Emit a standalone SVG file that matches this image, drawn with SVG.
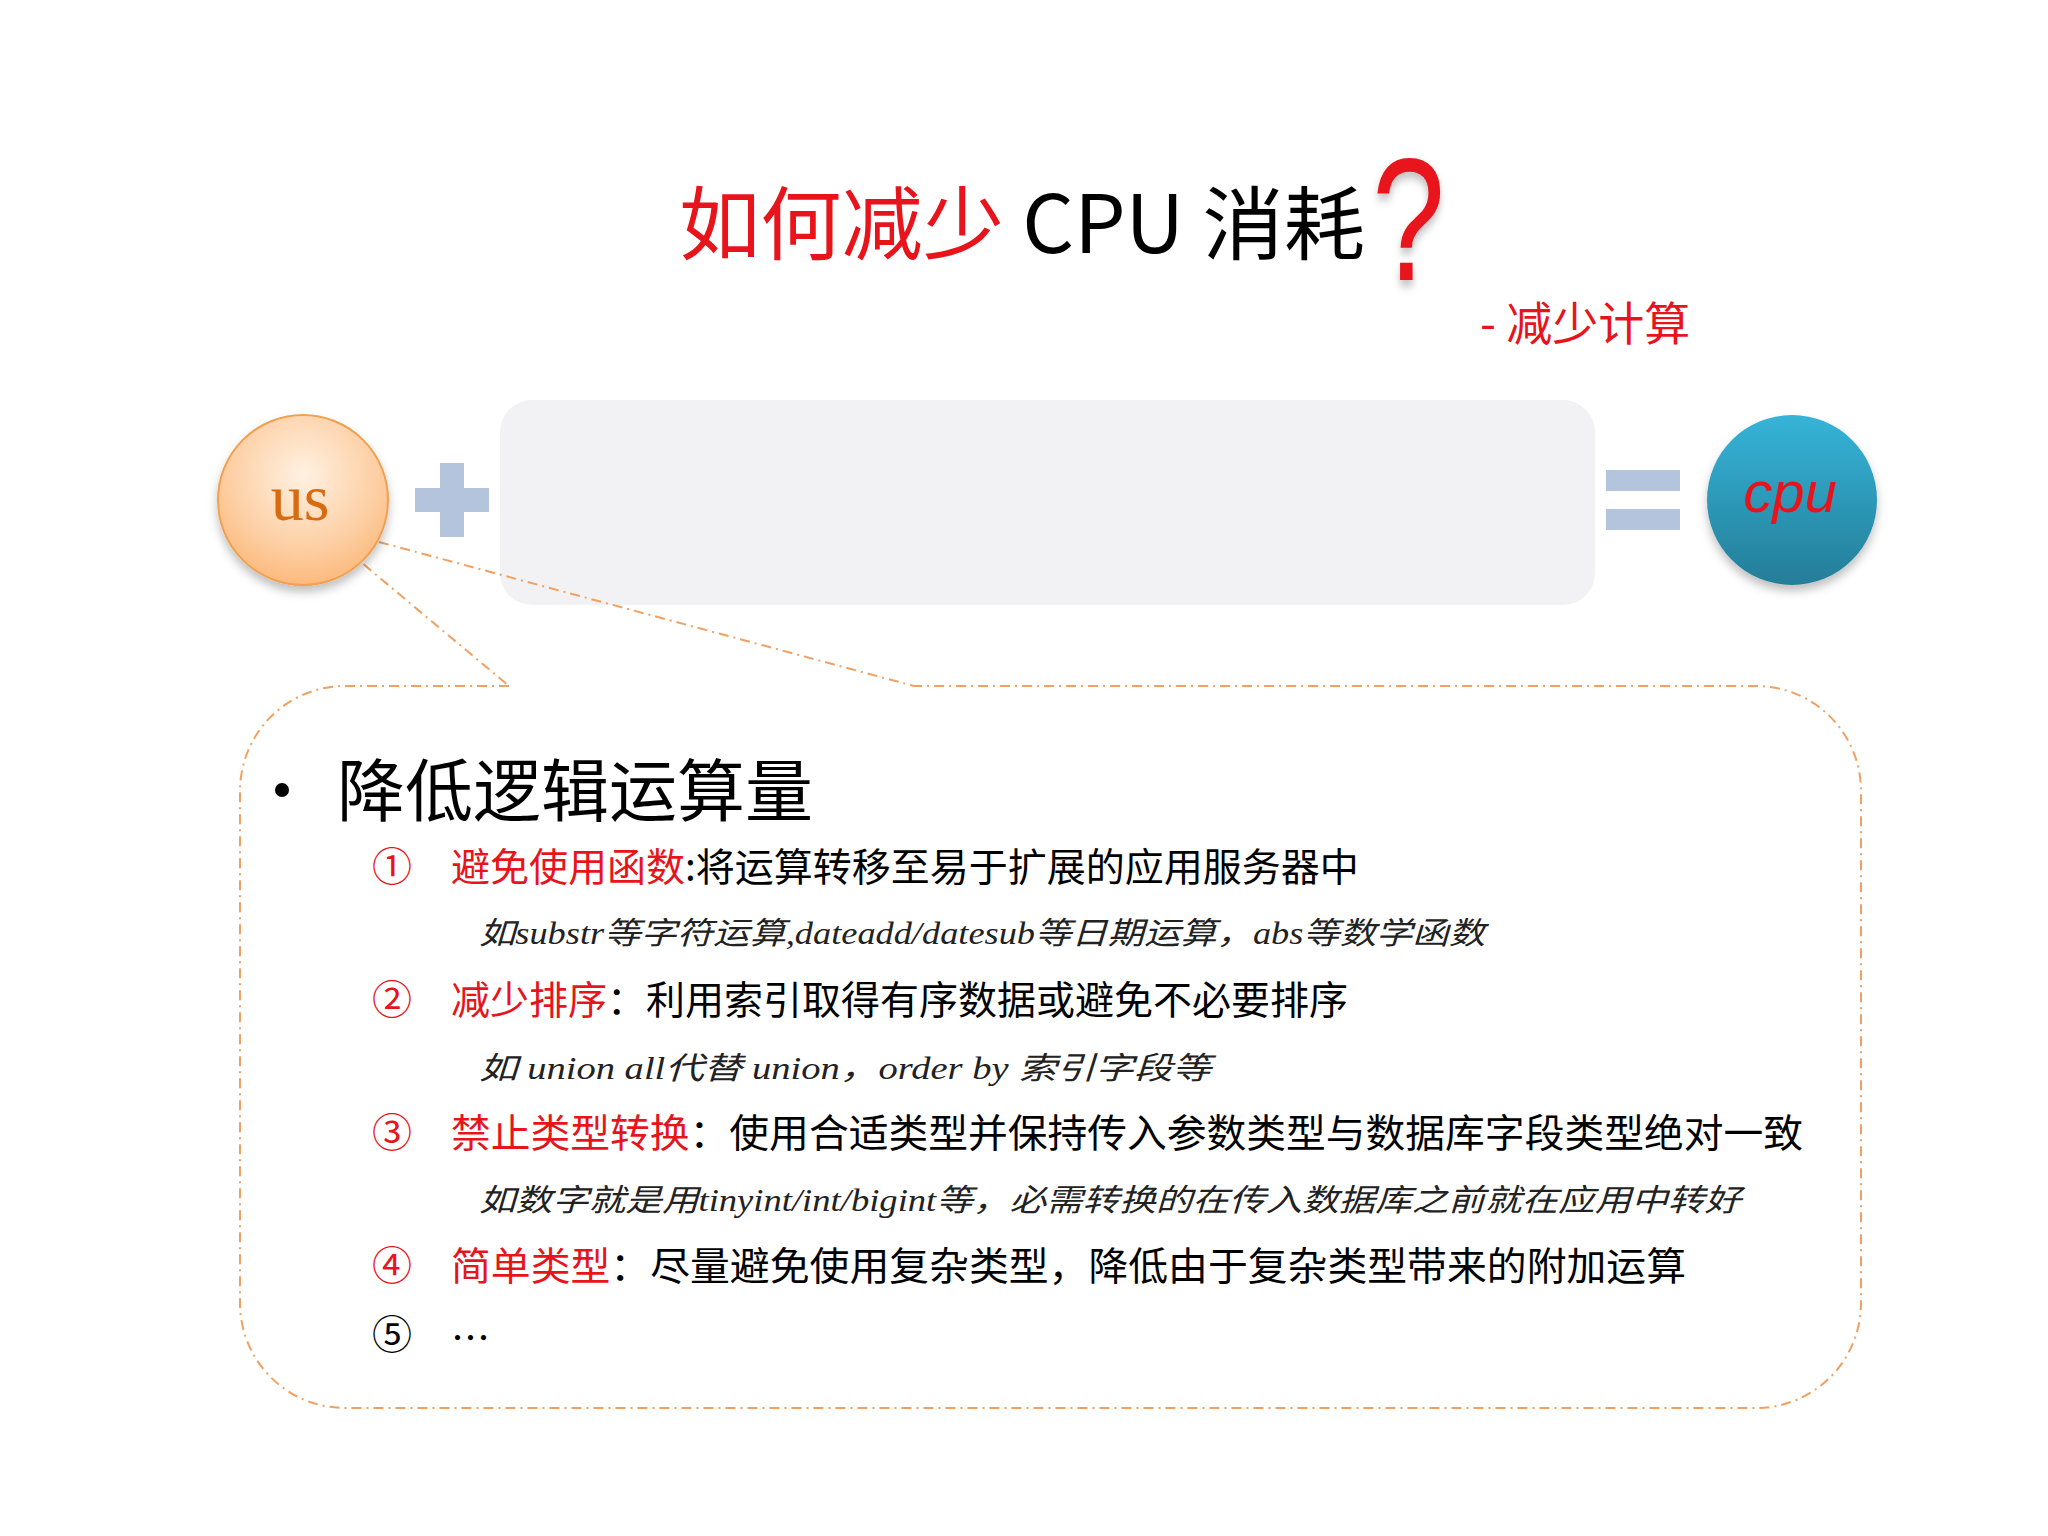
<svg xmlns="http://www.w3.org/2000/svg" width="2048" height="1536" viewBox="0 0 2048 1536">
<defs>
<style>
.cj{font-family:"Noto Sans CJK SC","Liberation Sans",sans-serif}
.it{font-family:"Liberation Serif","Noto Sans CJK SC",serif;font-style:italic;font-size:31px;fill:#222}
.red{fill:#e8141c}
.item{font-size:39px}
.num{font-family:"Liberation Serif","Noto Sans CJK SC",serif;font-size:40px}
.dash{fill:none;stroke:#f0a060;stroke-width:2;stroke-dasharray:10 5 2 5}
</style>
<radialGradient id="gus" cx="0.5" cy="0.35" r="0.7">
<stop offset="0" stop-color="#fff1e2"/><stop offset="0.6" stop-color="#fdd0a6"/><stop offset="1" stop-color="#fbb574"/>
</radialGradient>
<linearGradient id="gcpu" x1="0" y1="0" x2="0" y2="1">
<stop offset="0" stop-color="#35b4d8"/><stop offset="1" stop-color="#257d98"/>
</linearGradient>
<filter id="sh" x="-30%" y="-30%" width="160%" height="170%"><feDropShadow dx="0" dy="6" stdDeviation="5" flood-color="#000" flood-opacity="0.25"/></filter>
</defs>
<rect width="2048" height="1536" fill="#fff"/>
<g id="title">
<text x="679" y="253" class="cj" font-size="80" textLength="686" lengthAdjust="spacingAndGlyphs"><tspan class="red">如何减少</tspan><tspan fill="#000"> CPU 消耗</tspan></text>
<text x="1372" y="280" font-family="Liberation Sans,sans-serif" font-size="175" fill="#e8141c" filter="url(#sh)" transform="translate(1372,280) scale(0.75,1) translate(-1372,-280)">?</text>
<text x="1480" y="340" class="cj red" font-size="46">- 减少计算</text>
</g>
<g id="middle">
<rect x="500" y="400" width="1095" height="205" rx="32" fill="#f2f2f4"/>
</g>
<g id="connectors">
<path class="dash" d="M313,522 L509,686"/>
<path class="dash" d="M379,542 L914,686"/>
</g>
<g id="box">
<path class="dash" d="M509,686 H345 A105,105 0 0 0 240,791 V1303 A105,105 0 0 0 345,1408 H1756 A105,105 0 0 0 1861,1303 V791 A105,105 0 0 0 1756,686 H914"/>
<circle cx="282" cy="790" r="7" fill="#000"/>
<text x="337" y="816" class="cj" font-size="68">降低逻辑运算量</text>
<text x="372" y="881" class="num red">①</text>
<text x="451" y="881" class="cj item"><tspan class="red">避免使用函数</tspan>:将运算转移至易于扩展的应用服务器中</text>
<text x="479" y="944" class="it" textLength="1006" lengthAdjust="spacingAndGlyphs">如substr等字符运算,dateadd/datesub等日期运算，abs等数学函数</text>
<text x="372" y="1014" class="num red">②</text>
<text x="451" y="1014" class="cj item"><tspan class="red">减少排序</tspan>：利用索引取得有序数据或避免不必要排序</text>
<text x="479" y="1079" class="it" textLength="732" lengthAdjust="spacingAndGlyphs">如 union all代替 union，order by 索引字段等</text>
<text x="372" y="1147" class="num red">③</text>
<text x="451" y="1147" class="cj item" textLength="1352" lengthAdjust="spacingAndGlyphs"><tspan class="red">禁止类型转换</tspan>：使用合适类型并保持传入参数类型与数据库字段类型绝对一致</text>
<text x="479" y="1211" class="it" textLength="1262" lengthAdjust="spacingAndGlyphs">如数字就是用tinyint/int/bigint等，必需转换的在传入数据库之前就在应用中转好</text>
<text x="372" y="1280" class="num red">④</text>
<text x="451" y="1280" class="cj item" textLength="1235" lengthAdjust="spacingAndGlyphs"><tspan class="red">简单类型</tspan>：尽量避免使用复杂类型，降低由于复杂类型带来的附加运算</text>
<text x="372" y="1349" class="num" fill="#000">⑤</text>
<text x="451" y="1352" class="cj item">…</text>
</g>
<g id="us">
<circle cx="303" cy="500" r="85" fill="url(#gus)" stroke="#f0a050" stroke-width="2" filter="url(#sh)"/>
<text x="300" y="520" text-anchor="middle" font-family="Liberation Serif,serif" font-size="66" fill="#d86a10">us</text>
</g>
<g id="plus">
<rect x="440" y="463" width="24" height="74" fill="#b4c4dc"/>
<rect x="415" y="488" width="74" height="24" fill="#b4c4dc"/>
</g>
<g id="equals">
<rect x="1606" y="470" width="74" height="21" fill="#b4c4dc"/>
<rect x="1606" y="509" width="74" height="21" fill="#b4c4dc"/>
</g>
<g id="cpu">
<circle cx="1792" cy="500" r="85" fill="url(#gcpu)" filter="url(#sh)"/>
<text x="1790" y="512" text-anchor="middle" font-family="Liberation Sans,sans-serif" font-style="italic" font-size="58" fill="#e8141c">cpu</text>
</g>
</svg>
